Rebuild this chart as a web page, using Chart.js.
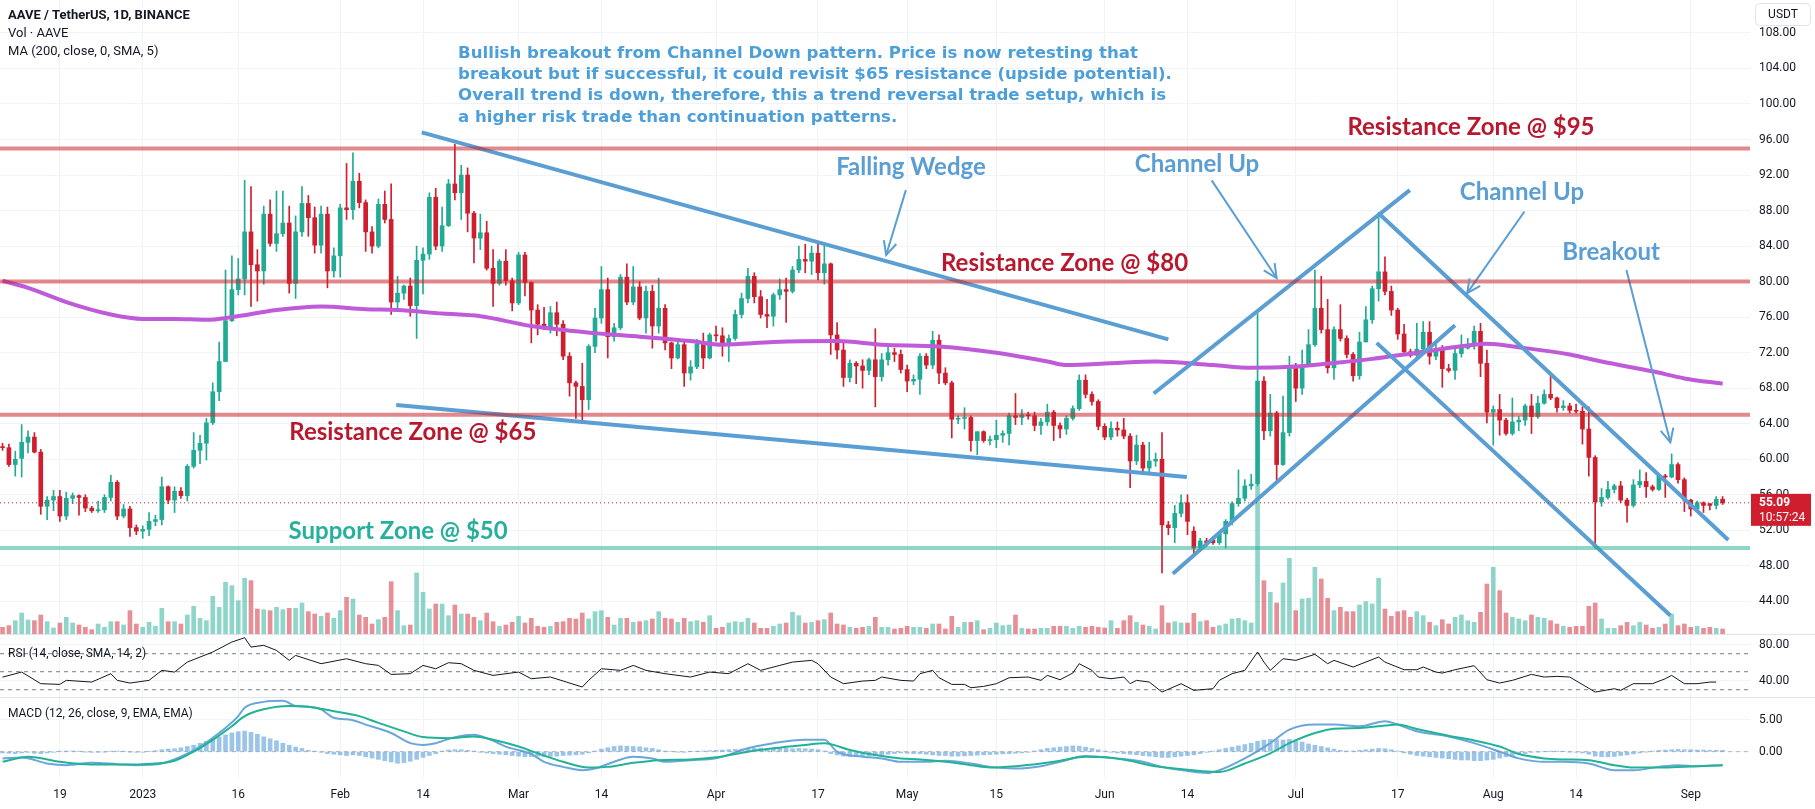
<!DOCTYPE html>
<html>
<head>
<meta charset="utf-8">
<script src="https://cdn.jsdelivr.net/npm/chart.js@4.4.0/dist/chart.umd.min.js"></script>
<style>
  html, body { margin: 0; padding: 0; background: #fff; }
  #wrap { position: relative; width: 1815px; height: 809px; overflow: hidden; }
  #wrap canvas { position: absolute; left: 0; }
</style>
</head>
<body>
<div id="wrap">
  <canvas id="main" width="1815" height="634" style="top:0"></canvas>
  <canvas id="rsi" width="1815" height="63" style="top:634px"></canvas>
  <canvas id="macd" width="1815" height="112" style="top:697px"></canvas>
</div>
<script>
// day 0 = Jan 1 2023, one candle per day from Dec 10 2022
const firstDay = -22;

const opens = [
  61.4,61.3,59.4,60.1,61.9,62.5,60.8,54.7,55.4,55.8,
  53.6,55.6,55.9,55.7,54.5,54.2,54.3,55.7,57.4,53.6,
  54.4,52.3,51.9,52.1,53.0,53.2,56.9,55.4,56.4,55.9,
  59.2,61.0,61.8,64.1,67.6,71.0,75.6,79.1,80.3,85.6,
  81.9,81.2,87.6,84.3,85.4,86.6,79.8,85.6,88.8,87.2,
  84.1,87.6,81.2,82.9,88.3,88.1,91.3,88.9,85.6,84.0,
  88.7,87.0,77.7,78.7,79.5,77.3,82.4,83.1,89.5,84.0,
  86.3,91.0,90.0,92.0,87.7,84.9,85.5,81.5,79.8,82.3,
  80.1,77.6,83.0,79.9,76.8,75.2,74.9,76.5,75.2,71.6,
  68.6,68.2,66.7,72.7,75.9,79.1,73.8,74.8,80.5,77.7,
  79.4,75.9,78.9,75.0,77.0,73.1,71.4,72.9,69.7,70.4,
  73.0,71.4,74.0,73.9,73.0,73.6,76.3,78.1,80.6,78.3,
  76.3,76.1,78.5,79.1,78.9,81.3,82.5,82.3,83.2,81.0,
  82.0,74.0,72.3,69.2,70.8,70.5,70.0,71.2,69.3,71.2,
  72.0,71.8,70.1,68.8,69.0,71.6,70.6,73.4,69.7,68.6,
  64.5,64.6,64.7,62.1,63.1,62.1,62.2,62.7,62.9,64.9,
  64.7,65.0,64.9,63.8,64.2,65.3,63.8,63.4,64.6,65.7,
  68.9,67.3,66.5,63.7,62.5,63.5,63.3,62.6,59.8,61.6,
  59.0,59.8,60.0,52.6,52.3,53.9,55.1,51.9,50.0,50.8,
  50.9,50.6,51.6,53.0,55.0,55.6,57.0,57.2,68.8,63.2,
  65.2,59.4,63.0,70.5,68.0,70.5,72.9,77.0,74.6,70.3,
  74.6,73.6,71.8,69.4,73.2,75.7,79.2,81.1,78.9,76.8,
  74.1,72.1,71.7,72.4,74.3,71.6,72.4,70.2,70.0,71.9,
  72.5,72.9,74.4,70.8,65.3,65.6,64.4,62.9,64.2,64.4,
  66.0,64.8,66.3,67.3,66.9,65.8,66.0,65.5,65.4,63.4,
  60.2,55.2,55.7,56.6,57.0,55.4,54.8,57.1,57.5,56.9,
  56.6,58.1,58.0,59.4,57.7,55.4,54.4,55.1,55.0,54.8,
  55.5
];
const highs = [
  61.8,61.7,60.9,63.9,63.2,63.0,61.1,55.8,56.5,56.5,
  56.3,56.2,56.0,56.0,54.7,55.3,56.0,58.2,57.6,54.9,
  54.7,52.6,52.5,54.0,53.7,58.0,57.0,56.9,56.8,59.4,
  63.0,62.7,64.6,68.6,73.2,81.3,82.9,82.6,91.4,90.7,
  83.6,88.5,89.2,90.2,90.2,88.5,87.4,90.7,89.7,88.4,
  88.5,88.4,83.8,88.7,93.3,94.5,92.2,89.2,86.2,89.3,
  90.2,91.0,80.6,79.6,80.4,84.0,83.8,90.0,90.5,88.4,
  91.5,95.5,93.1,92.8,87.9,87.6,86.8,83.6,82.5,83.6,
  80.4,83.3,83.3,80.0,77.4,77.1,77.2,77.7,75.6,72.0,
  68.8,70.8,72.9,77.0,81.7,80.4,75.3,80.8,82.0,81.7,
  80.0,79.5,79.6,80.4,77.4,73.2,73.2,73.2,71.1,73.5,
  74.2,74.2,75.0,74.8,74.0,76.8,78.7,81.5,81.0,79.0,
  78.0,78.7,80.3,80.4,81.7,84.0,84.2,84.0,84.4,84.3,
  82.1,75.4,73.2,71.2,71.0,71.2,71.4,74.7,71.9,72.6,
  72.5,72.3,70.6,69.5,71.9,71.9,74.4,74.0,70.3,68.8,
  64.9,65.8,64.9,63.1,63.2,62.6,64.4,63.2,65.2,67.4,
  65.6,65.3,65.3,64.6,66.2,65.5,64.1,64.9,66.0,69.5,
  69.5,67.6,66.7,64.0,64.2,64.2,64.6,62.9,62.7,61.9,
  61.9,60.7,63.0,53.0,54.8,56.0,56.0,52.4,51.1,51.1,
  51.3,51.9,53.2,55.2,58.8,57.7,58.3,76.4,69.3,67.3,
  65.4,67.1,71.6,70.8,72.3,74.6,81.3,80.6,78.0,74.9,
  77.4,73.9,72.0,74.3,77.2,79.5,87.8,82.8,79.5,77.0,
  75.2,72.4,75.3,75.5,75.5,73.2,72.8,70.7,72.7,74.0,
  73.6,75.0,75.3,72.3,66.0,67.3,64.6,66.9,64.8,66.2,
  67.3,67.1,67.8,69.5,67.0,66.6,66.3,66.2,65.9,65.9,
  60.4,56.7,57.5,57.2,57.5,55.6,57.7,58.8,58.5,57.1,
  58.2,58.3,60.6,59.6,57.9,55.5,55.3,55.2,55.0,55.8,
  55.8
];
const lows = [
  61.0,59.2,58.1,58.0,60.7,60.7,53.8,53.2,54.2,53.0,
  53.2,55.0,53.7,54.1,54.0,54.0,54.0,55.3,53.2,53.4,
  51.3,51.5,51.1,51.4,52.5,52.6,55.0,54.0,55.6,55.3,
  59.0,59.5,59.9,63.9,66.6,71.0,75.5,78.5,78.5,77.2,
  77.8,79.7,84.0,83.4,85.1,78.7,78.1,85.1,85.1,83.2,
  83.2,79.3,80.5,80.5,87.0,87.0,88.3,83.4,83.2,83.8,
  86.6,76.3,76.7,78.0,76.1,73.6,78.6,82.5,83.6,83.4,
  86.2,89.2,87.0,85.6,82.1,83.6,81.3,77.2,79.6,79.6,
  76.7,77.4,78.4,73.1,74.0,74.6,74.2,73.9,71.2,67.1,
  64.6,64.0,65.6,72.0,75.3,71.4,73.3,74.6,77.4,77.4,
  75.7,74.2,72.5,74.2,72.3,70.2,71.3,68.2,68.9,70.2,
  70.2,71.3,73.3,71.6,71.0,73.4,75.9,77.6,77.6,75.9,
  74.8,75.0,78.0,75.4,78.7,81.0,81.0,80.8,80.2,79.7,
  71.8,71.3,68.2,68.7,68.5,68.0,69.5,65.9,68.8,70.6,
  71.0,69.7,67.6,68.4,67.3,70.2,70.2,68.5,68.4,62.4,
  64.0,63.4,60.9,60.5,61.9,61.6,61.3,61.9,61.6,63.9,
  63.9,64.5,63.2,62.8,63.8,62.1,62.4,62.8,64.4,65.5,
  66.9,66.1,63.3,62.2,62.2,62.6,62.3,56.8,59.4,58.6,
  58.6,59.2,47.2,51.5,50.6,53.5,51.5,49.1,49.6,50.2,
  50.4,50.4,50.0,52.6,54.7,55.3,56.6,57.0,62.2,62.6,
  57.4,59.3,62.6,66.5,67.3,70.5,72.7,74.2,69.7,69.0,
  73.3,71.4,68.8,69.0,73.2,75.3,77.8,78.5,76.2,73.5,
  71.9,71.5,71.4,72.0,70.7,71.2,68.1,69.8,69.0,71.5,
  72.4,72.4,69.3,64.1,61.6,62.7,62.7,62.7,63.2,63.8,
  62.9,64.6,66.2,66.7,65.3,65.5,65.2,65.2,61.7,58.1,
  50.0,54.7,55.5,56.2,55.1,52.9,54.6,56.8,55.7,56.4,
  56.5,55.7,57.9,57.3,54.1,53.6,54.2,54.0,54.3,54.4,
  54.9
];
const closes = [
  61.3,59.4,60.0,61.9,62.5,60.8,54.7,55.4,55.8,53.6,
  55.6,55.9,55.7,54.5,54.2,54.3,55.7,57.4,53.6,54.4,
  52.3,51.9,52.1,53.0,53.2,56.9,55.4,56.4,55.9,59.2,
  61.0,61.8,64.1,67.6,71.0,75.6,79.1,80.3,85.6,81.9,
  81.2,87.6,84.3,85.4,86.6,79.8,85.6,88.8,87.2,84.1,
  87.6,81.2,82.9,88.3,88.1,91.3,88.9,85.6,84.0,88.7,
  87.0,77.7,78.7,79.5,77.3,82.4,83.1,89.5,84.0,86.3,
  91.0,90.0,92.0,87.7,84.9,85.5,81.5,79.8,82.3,80.1,
  77.6,83.0,79.9,76.8,75.2,74.9,76.5,75.2,71.6,68.6,
  68.2,66.7,72.7,75.9,79.1,73.8,74.8,80.5,77.7,79.4,
  75.9,78.9,75.0,77.0,73.1,71.4,72.9,69.7,70.4,73.0,
  71.4,74.0,73.9,73.0,73.6,76.3,78.1,80.6,78.3,76.3,
  76.1,78.5,79.1,78.9,81.3,82.5,82.3,83.2,81.0,82.0,
  74.0,72.3,69.2,70.8,70.5,70.0,71.2,69.3,71.2,72.0,
  71.8,70.1,68.8,69.0,71.6,70.6,73.4,69.7,68.6,64.5,
  64.6,64.7,62.1,63.1,62.1,62.2,62.7,62.9,64.9,64.7,
  65.0,64.9,63.8,64.2,65.3,63.8,63.4,64.6,65.7,68.9,
  67.3,66.5,63.7,62.5,63.5,63.3,62.6,59.8,61.6,59.0,
  59.8,60.0,52.6,52.3,53.9,55.1,53.0,50.0,50.8,50.6,
  50.6,51.6,53.0,55.0,55.6,57.0,57.2,68.8,63.2,65.2,
  59.4,63.0,70.5,68.0,70.5,72.9,77.0,74.6,70.3,74.6,
  73.6,71.8,69.4,73.2,75.7,79.2,81.1,78.9,76.8,74.1,
  72.1,71.7,72.4,74.3,71.6,72.4,70.2,70.0,71.9,72.5,
  72.9,74.4,70.8,65.3,65.6,64.4,62.9,64.2,64.4,66.0,
  64.8,66.3,67.3,66.9,65.8,66.0,65.5,65.4,63.4,60.2,
  55.2,55.7,56.6,57.0,55.4,54.8,57.1,57.5,56.9,56.6,
  58.1,58.0,59.4,57.7,55.4,54.4,55.1,54.8,54.8,55.5,
  55.09
];
// volume, thousands of AAVE
const volumes = [
  20,25,40,63,42,40,57,37,18,33,
  50,33,27,20,13,30,20,37,37,27,
  70,30,20,35,23,77,37,37,30,57,
  83,47,40,113,80,155,145,100,167,160,
  75,73,70,80,73,77,77,93,67,60,
  53,63,47,70,110,105,57,50,30,43,
  50,157,70,25,27,183,125,75,90,90,
  55,87,60,60,50,40,63,37,23,27,
  35,53,33,47,23,20,23,35,37,47,
  45,63,45,67,70,50,27,47,47,35,
  37,40,45,67,47,45,35,47,37,40,
  35,55,17,20,33,37,35,47,33,17,
  17,23,30,33,65,55,33,35,40,43,
  63,30,27,20,17,20,23,50,20,20,
  15,17,23,20,20,17,30,30,15,53,
  20,35,35,40,13,17,33,25,27,57,
  17,15,15,17,17,23,23,23,17,23,
  20,23,20,18,40,17,40,55,35,27,
  23,15,85,33,37,33,33,62,37,40,
  20,25,30,45,47,40,33,445,160,125,
  93,153,227,70,105,107,200,165,107,70,
  80,67,67,87,97,90,167,75,53,67,
  70,50,67,55,35,25,43,30,50,57,
  40,35,65,150,200,130,63,50,45,40,
  57,50,47,40,30,23,20,23,23,83,
  93,45,17,17,25,35,25,35,27,17,
  20,30,60,25,30,20,23,17,20,17,
  15
];

// MA 200
const maDays = [-22,-18,-12,-5,0,5,10,14,21,28,35,40,47,53,61,71,78,86,91,99,109,116,125,134,142,145,152,159,168,174,180,185,193,200,208,211,216,224,229,237,242,248];
const maValues = [80.1,79.3,77.7,76.3,75.8,75.8,75.7,76.0,76.8,77.2,76.9,76.8,76.4,76.1,75.0,74.2,73.8,73.3,72.9,73.2,73.3,72.9,72.7,72.0,71.0,70.6,70.8,71.0,70.6,70.3,70.4,70.7,71.3,72.0,72.8,73.0,72.6,71.8,71.0,69.9,69.1,68.5];

// RSI (14)
const rsiDays = [-22,-19,-16,-13,-12,-8,-5,-4,-2,1,3,5,7,11,14,16,17,19,21,23,24,28,32,35,37,39,42,44,46,48,50,52,55,59,61,64,69,70,72,75,77,79,82,86,89,92,95,97,100,102,105,106,108,110,113,115,116,119,121,122,124,125,127,129,130,132,134,136,139,141,142,144,146,147,149,150,152,154,155,156,158,160,163,165,168,169,171,173,175,176,177,179,181,184,186,187,190,194,195,198,200,201,203,204,206,209,211,213,215,218,220,222,224,228,231,232,234,237,239,240,242,244,246,247];
const rsiValues = [44,49.6,36.7,35.9,40.4,38.5,47.8,40.4,37.4,40.4,51.5,49.6,60.7,71.9,83,87.8,77.4,79.3,73.7,62.6,68.1,58.9,64.4,58.9,57,47,47.8,57,53.3,60,58.9,51.5,45.9,49.6,42.2,44.1,33,40.4,53.3,51.5,57,51.5,47.8,44.1,49.6,47.8,58.9,51.5,57,60.7,62.6,58.9,44.1,36.7,39.6,40.4,44.1,40.4,39.6,47.8,51.5,43.3,35.9,35.9,32.2,33.7,36.7,43.3,44.1,40.4,45.9,41.1,48.5,58.9,51.5,44.1,42.2,44.1,36.7,40.4,38.5,27.4,36.7,29.3,31.1,40.4,47.8,51.5,71.9,60.7,51.5,64.4,62.6,69.3,58.9,62.6,55.2,66.3,60.7,52.2,52.2,55.2,49.6,48.5,52.2,56.7,41.1,37.4,40.4,47,44.1,44.8,44.1,27.4,31.1,29.3,36.7,36.7,42.2,45.9,36.7,36.7,38.5,38.5];
const rsiLevels = [70, 50, 30];

// MACD (12, 26, 9)
const macdDays = [-22,-19,-15,-12,-8,-4,-1,3,6,9,12,15,16,19,22,24,26,28,30,33,35,39,42,44,46,49,52,54,57,61,63,66,69,71,74,77,80,82,86,90,95,99,104,107,109,113,116,119,123,126,130,133,137,141,144,148,150,153,157,160,164,167,169,173,177,180,184,187,191,195,197,200,205,209,213,216,220,223,227,231,234,238,241,244,248];
const macdValues = [-1.05,-0.9,-1.84,-2.1,-1.74,-1.95,-2.1,-1.84,-0.79,0.79,2.89,5.53,6.84,7.74,7.9,7.1,7.0,6.58,5.26,4.9,4.2,2.9,1.32,1.05,1.32,2.26,2.63,2.1,0.79,-0.37,-1.58,-2.37,-2.89,-2.63,-1.58,-0.79,-1.05,-1.58,-1.32,-1.05,0.53,1.32,1.84,1.84,0,-0.79,-1.05,-1.58,-1.58,-1.42,-1.84,-2.37,-2.63,-2.26,-1.58,-0.68,-0.79,-1.05,-1.58,-2.37,-3.0,-3.32,-2.89,-1.05,1.32,3.42,4.21,4.21,3.95,4.74,4.21,3.16,2.37,1.32,0,-1.05,-1.58,-1.58,-1.84,-2.89,-2.89,-2.37,-2.1,-2.26,-2.1];
const signalDays = [-22,-18,-13,-9,-4,0,5,8,11,14,16,19,23,26,30,34,37,41,44,48,52,55,59,62,66,70,73,77,81,86,90,95,99,104,107,111,115,119,122,126,130,133,137,141,144,148,151,155,158,162,166,169,173,177,180,184,187,191,195,197,200,205,209,213,216,220,223,227,231,234,238,241,244,248];
const signalValues = [-1.58,-0.79,-1.58,-1.95,-2.0,-1.95,-1.42,0,1.84,3.95,5.53,6.58,7.1,7.0,6.3,5.53,4.47,3.16,2.26,2.1,2.37,1.84,0.79,-0.26,-1.58,-2.47,-2.37,-1.74,-1.32,-1.21,-0.89,0,0.53,1.05,1.32,0.26,-0.53,-1.05,-1.21,-1.58,-2.1,-2.47,-2.26,-1.84,-1.42,-0.79,-0.89,-1.42,-2.1,-2.63,-3.0,-3.16,-1.84,-0.26,1.32,2.89,3.58,3.68,4.05,4.21,3.53,2.47,1.74,0.79,-0.37,-1.05,-1.21,-1.32,-2.1,-2.47,-2.47,-2.37,-2.26,-2.1];
const histValues = [
  -0.2,-0.25,-0.3,-0.2,-0.1,-0.25,-0.3,-0.2,-0.1,0.05,
  0.1,0.1,0.05,-0.05,-0.1,-0.1,-0.05,0.05,0.1,0.05,
  -0.05,-0.1,-0.1,0,0.15,0.3,0.4,0.45,0.6,0.8,
  1.0,1.3,1.6,1.9,2.3,2.6,2.9,3.1,3.2,3.0,
  2.7,2.3,2.0,1.7,1.3,1.0,0.7,0.5,0.2,0.05,
  -0.1,-0.3,-0.4,-0.5,-0.6,-0.5,-0.6,-0.8,-1.0,-1.2,
  -1.4,-1.6,-1.8,-1.7,-1.5,-1.2,-0.9,-0.6,-0.3,0.1,
  0.25,0.3,0.3,0.2,0.1,-0.1,-0.2,-0.3,-0.4,-0.5,
  -0.6,-0.7,-0.8,-0.75,-0.7,-0.8,-0.75,-0.7,-0.6,-0.55,
  -0.5,-0.4,-0.2,0.1,0.4,0.6,0.8,0.9,0.85,0.8,
  0.75,0.6,0.5,0.3,0.1,0,-0.05,-0.1,0,0.05,
  0.1,0.15,0.2,0.25,0.3,0.35,0.4,0.45,0.5,0.55,
  0.5,0.5,0.55,0.5,0.45,0.5,0.45,0.4,0.3,0.1,
  -0.3,-0.5,-0.7,-0.8,-0.8,-0.75,-0.7,-0.6,-0.5,-0.4,
  -0.3,-0.2,-0.25,-0.3,-0.3,-0.4,-0.5,-0.6,-0.6,-0.7,
  -0.7,-0.65,-0.6,-0.55,-0.5,-0.45,-0.4,-0.35,-0.3,-0.25,
  -0.2,-0.1,0.1,0.3,0.5,0.6,0.7,0.8,0.9,0.85,
  0.7,0.5,0.3,0.1,-0.1,-0.2,-0.3,-0.4,-0.5,-0.6,
  -0.7,-0.8,-0.9,-0.9,-0.8,-0.7,-0.6,-0.5,-0.3,-0.1,
  0.1,0.3,0.5,0.7,0.9,1.1,1.3,1.6,1.8,1.9,
  1.9,1.8,1.9,1.7,1.5,1.2,1.0,0.8,0.6,0.4,
  0.2,0.1,0.1,0.2,0.3,0.4,0.5,0.45,0.3,0.1,
  -0.2,-0.4,-0.6,-0.7,-0.8,-0.9,-1.0,-1.1,-1.2,-1.3,
  -1.3,-1.4,-1.4,-1.3,-1.2,-1.0,-0.8,-0.6,-0.4,-0.3,
  -0.1,-0.05,0,0.05,0.05,0,-0.05,-0.1,-0.2,-0.4,
  -0.7,-0.8,-0.8,-0.75,-0.6,-0.5,-0.35,-0.2,-0.05,0.1,
  0.2,0.25,0.3,0.35,0.3,0.3,0.25,0.25,0.2,0.2,
  0.2
];

// axis ticks
const tickDays = [-13,0,15,31,44,59,72,90,106,120,134,151,164,181,197,212,225,243];
const tickLabels = ['19','2023','16','Feb','14','Mar','14','Apr','17','May','15','Jun','14','Jul','17','Aug','14','Sep'];
const priceTicks = [44,48,52,56,60,64,68,72,76,80,84,88,92,96,100,104,108];
const rsiTicks = [40, 80];
const macdTicks = [0, 5];
const lastPrice = 55.09;
const lastTime = '10:57:24';

// drawings: zones, pattern lines [day, price]
const resistanceZones = [95, 80, 65];
const supportZones = [50];
const patternLines = [
  [[43.8, 96.8], [161.0, 73.5]],
  [[39.8, 66.1], [163.9, 58.0]],
  [[158.7, 67.4], [198.9, 90.3]],
  [[161.7, 47.1], [206.0, 75.1]],
  [[194.0, 87.7], [248.9, 50.9]],
  [[193.7, 73.1], [239.8, 42.4]]
];
const arrows = [
  [[119.8, 90.3], [116.7, 83.0]],
  [[167.8, 91.4], [178.0, 80.4]],
  [[216.9, 87.9], [207.9, 78.7]],
  [[232.9, 81.3], [239.8, 61.9]]
];
const blueLabels = [
  ['Falling Wedge', 120.6, 92.9],
  ['Channel Up', 165.5, 93.2],
  ['Channel Up', 216.5, 90.1],
  ['Breakout', 230.5, 83.3]
];
const zoneLabels = [
  ['Resistance Zone @ $95', 208.5, 97.4],
  ['Resistance Zone @ $80', 144.7, 82.1],
  ['Resistance Zone @ $65', 42.4, 63.0]
];
const supportLabels = [['Support Zone @ $50', 40.1, 51.9]];
const noteLines = [
  'Bullish breakout from Channel Down pattern. Price is now retesting that',
  'breakout but if successful, it could revisit $65 resistance (upside potential).',
  'Overall trend is down, therefore, this a trend reversal trade setup, which is',
  'a higher risk trade than continuation patterns.'
];
const noteAnchor = [49.5, 105.7];

const X_MIN = -22.4, X_MAX = 252.3;
const UP = '#22ab94', DOWN = '#cf1f2f';
const UP_VOL = 'rgba(34,171,148,0.5)', DOWN_VOL = 'rgba(207,31,47,0.5)';
const BLUE = '#5a9ed4';
const GRID = '#f0f3fa';
const TXT = '#131722';
const AXIS_FONT = { family: 'Roboto', size: 12 };

function xScale(showLabels) {
  return {
    type: 'linear', min: X_MIN, max: X_MAX, offset: false,
    afterBuildTicks: s => { s.ticks = tickDays.map(v => ({ value: v })); },
    grid: { color: GRID, drawTicks: false, offset: false },
    border: { display: false },
    ticks: {
      display: showLabels, autoSkip: false, maxRotation: 0, padding: 10,
      color: TXT, font: AXIS_FONT,
      callback: (v, i) => tickLabels[i]
    },
    afterFit: s => { s.height = showLabels ? 31 : 0; s.paddingLeft = 0; s.paddingRight = 0; }
  };
}

function yRight(min, max, ticks) {
  return {
    position: 'right', min: min, max: max,
    afterBuildTicks: s => { s.ticks = ticks.map(v => ({ value: v })); },
    afterFit: s => { s.width = 65; s.paddingTop = 0; s.paddingBottom = 0; },
    grid: { color: GRID, drawTicks: false },
    border: { display: false },
    ticks: { padding: 9, color: TXT, font: AXIS_FONT, callback: v => v.toFixed(2) }
  };
}

function segment(pts, color, width, dash) {
  return {
    type: 'line', data: pts.map(p => ({ x: p[0], y: p[1] })),
    borderColor: color, borderWidth: width, borderDash: dash || [],
    pointRadius: 0, tension: 0, order: 1
  };
}

function drawArrowHead(ctx, x1, y1, x2, y2) {
  const a = Math.atan2(y2 - y1, x2 - x1), len = 15, spread = 0.45;
  ctx.beginPath();
  ctx.moveTo(x2 - len * Math.cos(a - spread), y2 - len * Math.sin(a - spread));
  ctx.lineTo(x2, y2);
  ctx.lineTo(x2 - len * Math.cos(a + spread), y2 - len * Math.sin(a + spread));
  ctx.stroke();
}

// candles as floating bars
const candleColors = opens.map((o, i) => closes[i] >= o ? UP : DOWN);
const volColors = opens.map((o, i) => closes[i] >= o ? UP_VOL : DOWN_VOL);
const wickData = opens.map((o, i) => ({ x: firstDay + i, y: [lows[i], highs[i]] }));
const bodyData = opens.map((o, i) => ({ x: firstDay + i, y: [Math.min(o, closes[i]), Math.max(o, closes[i])] }));
const volData = volumes.map((v, i) => ({ x: firstDay + i, y: v }));

const mainDatasets = [
  { type: 'bar', data: volData, yAxisID: 'yv', backgroundColor: volColors, barThickness: 4, grouped: false, order: 12 },
  { type: 'bar', data: wickData, backgroundColor: candleColors, barThickness: 1, grouped: false, order: 11 },
  { type: 'bar', data: bodyData, backgroundColor: candleColors, barThickness: 4, minBarLength: 1, grouped: false, order: 10 },
  { type: 'line', data: maDays.map((d, i) => ({ x: d, y: maValues[i] })), borderColor: '#bf5ad9', borderWidth: 4,
    pointRadius: 0, cubicInterpolationMode: 'monotone', order: 5 }
];
resistanceZones.forEach(z => mainDatasets.push(segment([[X_MIN, z], [X_MAX, z]], 'rgba(200,40,45,0.55)', 4)));
supportZones.forEach(z => mainDatasets.push(segment([[X_MIN, z], [X_MAX, z]], 'rgba(34,171,148,0.5)', 4)));
mainDatasets.push(segment([[X_MIN, lastPrice], [X_MAX, lastPrice]], DOWN, 1, [1, 3]));
patternLines.forEach(l => mainDatasets.push(segment(l, BLUE, 4)));
arrows.forEach(a => mainDatasets.push(segment(a, BLUE, 2)));

const mainOverlay = {
  id: 'mainOverlay',
  afterDraw(chart) {
    const ctx = chart.ctx, xs = chart.scales.x, ys = chart.scales.y;
    const X = d => xs.getPixelForValue(d), Y = p => ys.getPixelForValue(p);
    ctx.save();
    // arrow heads
    ctx.strokeStyle = BLUE; ctx.lineWidth = 2;
    arrows.forEach(a => drawArrowHead(ctx, X(a[0][0]), Y(a[0][1]), X(a[1][0]), Y(a[1][1])));
    // labels
    ctx.textAlign = 'center'; ctx.textBaseline = 'middle';
    ctx.font = 'bold 24px Lato';
    ctx.fillStyle = BLUE;
    blueLabels.forEach(l => ctx.fillText(l[0], X(l[1]), Y(l[2])));
    ctx.fillStyle = '#b8182d';
    zoneLabels.forEach(l => ctx.fillText(l[0], X(l[1]), Y(l[2])));
    ctx.fillStyle = '#26b09b';
    supportLabels.forEach(l => ctx.fillText(l[0], X(l[1]), Y(l[2])));
    // note text
    ctx.textAlign = 'left';
    ctx.font = 'bold 16.6px "DejaVu Sans"';
    ctx.fillStyle = '#4d9fd9';
    noteLines.forEach((t, i) => ctx.fillText(t, X(noteAnchor[0]), Y(noteAnchor[1]) + i * 21.3));
    // header
    ctx.fillStyle = TXT;
    ctx.font = 'bold 13px Roboto';
    ctx.fillText('AAVE / TetherUS, 1D, BINANCE', 8, 16);
    ctx.font = '13px Roboto';
    ctx.fillText('Vol · AAVE', 8, 34);
    ctx.fillText('MA (200, close, 0, SMA, 5)', 8, 52);
    // currency box
    ctx.fillStyle = '#fff'; ctx.strokeStyle = '#e0e3eb'; ctx.lineWidth = 1;
    ctx.beginPath(); ctx.roundRect(1755.5, 3.5, 55, 22, 4); ctx.fill(); ctx.stroke();
    ctx.fillStyle = TXT; ctx.textAlign = 'center'; ctx.font = '12px Roboto';
    ctx.fillText('USDT', 1783, 15);
    // last price tag
    const py = Y(lastPrice);
    ctx.fillStyle = DOWN;
    ctx.fillRect(1751, py - 9, 60, 32);
    ctx.fillStyle = '#fff'; ctx.textAlign = 'left';
    ctx.font = 'bold 12px Roboto';
    ctx.fillText(lastPrice.toFixed(2), 1759, py);
    ctx.font = '12px Roboto';
    ctx.fillText(lastTime, 1759, py + 15);
    ctx.restore();
  }
};

new Chart(document.getElementById('main'), {
  type: 'bar',
  data: { datasets: mainDatasets },
  options: {
    responsive: false, animation: false, devicePixelRatio: 1,
    layout: { padding: 0 },
    plugins: { legend: { display: false }, tooltip: { enabled: false } },
    scales: {
      x: xScale(false),
      y: yRight(40.32, 111.71, priceTicks),
      yv: { display: false, min: 0, max: 1902 }
    }
  },
  plugins: [mainOverlay]
});

function paneOverlay(label) {
  return {
    id: 'pane' + label.length,
    afterDraw(chart) {
      const ctx = chart.ctx;
      ctx.save();
      ctx.strokeStyle = '#e0e3eb'; ctx.lineWidth = 1;
      ctx.beginPath(); ctx.moveTo(0, 0.5); ctx.lineTo(chart.width, 0.5); ctx.stroke();
      ctx.fillStyle = TXT; ctx.font = '12px Roboto';
      ctx.textAlign = 'left'; ctx.textBaseline = 'middle';
      ctx.fillText(label, 8, label.startsWith('RSI') ? 20 : 17);
      ctx.restore();
    }
  };
}

// RSI pane
const rsiDatasets = [
  { type: 'line', data: rsiDays.map((d, i) => ({ x: d, y: rsiValues[i] })), borderColor: '#131722', borderWidth: 1, pointRadius: 0, tension: 0 }
];
rsiLevels.forEach(v => rsiDatasets.push(segment([[X_MIN, v], [X_MAX, v]], '#787b86', 1, [4, 4])));

new Chart(document.getElementById('rsi'), {
  type: 'line',
  data: { datasets: rsiDatasets },
  options: {
    responsive: false, animation: false, devicePixelRatio: 1,
    layout: { padding: 0 },
    plugins: { legend: { display: false }, tooltip: { enabled: false } },
    scales: { x: xScale(false), y: yRight(21.9, 91.9, rsiTicks) }
  },
  plugins: [paneOverlay('RSI (14, close, SMA, 14, 2)')]
});

// MACD pane
const macdDatasets = [
  { type: 'bar', data: histValues.map((v, i) => ({ x: firstDay + i, y: v })), backgroundColor: 'rgba(100,165,220,0.65)', barThickness: 4, grouped: false, order: 5 },
  { type: 'line', data: macdDays.map((d, i) => ({ x: d, y: macdValues[i] })), borderColor: '#6aa6dc', borderWidth: 2, pointRadius: 0, cubicInterpolationMode: 'monotone', order: 2 },
  { type: 'line', data: signalDays.map((d, i) => ({ x: d, y: signalValues[i] })), borderColor: '#22b394', borderWidth: 2, pointRadius: 0, cubicInterpolationMode: 'monotone', order: 1 },
  segment([[X_MIN, 0], [X_MAX, 0]], 'rgba(120,123,134,0.5)', 1, [4, 4])
];

new Chart(document.getElementById('macd'), {
  type: 'bar',
  data: { datasets: macdDatasets },
  options: {
    responsive: false, animation: false, devicePixelRatio: 1,
    layout: { padding: 0 },
    plugins: { legend: { display: false }, tooltip: { enabled: false } },
    scales: { x: xScale(true), y: yRight(-4.1, 8.5, macdTicks) }
  },
  plugins: [paneOverlay('MACD (12, 26, close, 9, EMA, EMA)')]
});
</script>
</body>
</html>
